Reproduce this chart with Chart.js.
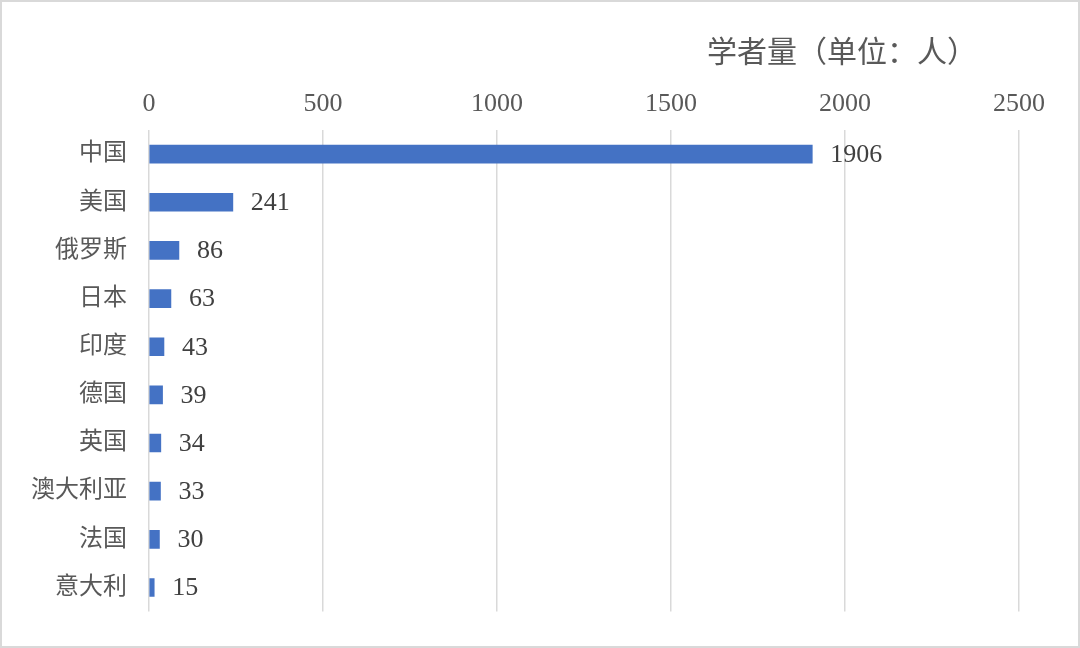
<!DOCTYPE html>
<html><head><meta charset="utf-8">
<script src="https://cdn.jsdelivr.net/npm/chart.js@4/dist/chart.umd.min.js"></script>
<style>html,body{margin:0;padding:0;background:#fff}#wrap{width:1080px;height:648px;position:relative}</style>
</head><body><div id="wrap"><canvas id="c" width="1080" height="648"></canvas></div>
<script>
const categories = ['中国','美国','俄罗斯','日本','印度','德国','英国','澳大利亚','法国','意大利'];
const scholars = [1906, 241, 86, 63, 43, 39, 34, 33, 30, 15];
const xTicks = [0, 500, 1000, 1500, 2000, 2500];
const titleText = '学者量（单位：人）';

const FONT = "'Liberation Serif','Noto Sans CJK SC',serif";

const deco = {
  id: 'deco',
  afterDatasetsDraw(chart) {
    const ctx = chart.ctx;
    const meta = chart.getDatasetMeta(0);
    ctx.save();
    ctx.font = '26px ' + FONT;
    ctx.fillStyle = '#404040';
    ctx.textBaseline = 'middle';
    ctx.textAlign = 'left';
    meta.data.forEach((bar, i) => {
      ctx.fillText(String(scholars[i]), bar.x + 18, bar.y + 1);
    });
    ctx.font = '30px ' + FONT;
    ctx.fillStyle = '#595959';
    ctx.textAlign = 'right';
    ctx.fillText(titleText, 977, 54);
    ctx.strokeStyle = '#d9d9d9';
    ctx.lineWidth = 2;
    ctx.strokeRect(1, 1, chart.width - 2, chart.height - 2);
    ctx.restore();
  }
};

new Chart(document.getElementById('c'), {
  type: 'bar',
  data: {
    labels: categories,
    datasets: [{ data: scholars, backgroundColor: '#4472C4', barThickness: 18 }]
  },
  options: {
    indexAxis: 'y',
    responsive: false,
    animation: false,
    layout: { padding: { left: 0, right: 61, top: 0, bottom: 33 } },
    plugins: { legend: { display: false }, tooltip: { enabled: false } },
    scales: {
      x: {
        position: 'top',
        min: 0, max: 2500,
        afterBuildTicks(s) { s.ticks = xTicks.map(v => ({ value: v })); },
        afterFit(s) { s.height = 130; },
        grid: { color: '#d9d9d9', lineWidth: 1.5, drawTicks: false },
        border: { display: false },
        ticks: { color: '#595959', font: { family: FONT, size: 26 }, padding: 10, callback: v => String(v) }
      },
      y: {
        afterFit(s) { s.width = 149; },
        grid: { display: false, drawTicks: false },
        border: { display: false },
        ticks: { color: '#595959', font: { family: FONT, size: 24 }, padding: 22 }
      }
    }
  },
  plugins: [deco]
});
</script></body></html>
